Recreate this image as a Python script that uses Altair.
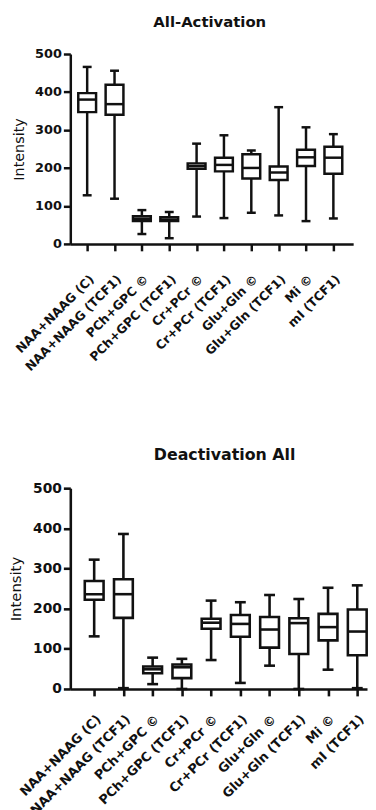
import altair as alt
import pandas as pd

cats = ["NAA+NAAG (C)", "NAA+NAAG (TCF1)", "PCh+GPC ©", "PCh+GPC (TCF1)",
        "Cr+PCr ©", "Cr+PCr (TCF1)", "Glu+Gln ©", "Glu+Gln (TCF1)",
        "Mi ©", "mI (TCF1)"]

# All-Activation
act_min = [128, 119, 26, 15, 72, 68, 82, 75, 60, 67]
act_q1 = [347, 340, 60, 60, 198, 191, 172, 168, 205, 185]
act_med = [380, 368, 66, 64, 205, 208, 200, 188, 228, 227]
act_q3 = [397, 419, 73, 70, 212, 227, 236, 204, 248, 256]
act_max = [466, 456, 89, 84, 264, 286, 246, 360, 307, 289]

# Deactivation All
dea_min = [131, 2, 12, 0, 72, 15, 58, 0, 48, 2]
dea_q1 = [222, 177, 39, 27, 150, 130, 103, 87, 121, 84]
dea_med = [236, 236, 49, 54, 165, 162, 148, 164, 154, 143]
dea_q3 = [269, 273, 56, 61, 175, 184, 179, 176, 187, 198]
dea_max = [322, 386, 78, 75, 220, 216, 234, 224, 252, 258]

y_ticks = [0, 100, 200, 300, 400, 500]
FONT = "DejaVu Sans"


def frame(mn, q1, md, q3, mx):
    return pd.DataFrame({"cat": cats, "mn": mn, "q1": q1, "md": md, "q3": q3, "mx": mx})


def panel(df, title, w, h, pad, align, box, cap, xlab_fs, ylab_fs, ttl_fs, ytl_fs,
          tpad, sw, xlp, toff, tdx):
    xs = alt.Scale(type="point", padding=pad, align=align)
    x = alt.X("cat:N", sort=cats, scale=xs, title=None,
              axis=alt.Axis(labelAngle=-45, labelFont=FONT, labelFontSize=xlab_fs,
                            labelFontWeight="bold", labelColor="#111", labelOverlap=False,
                            domainColor="#111", domainWidth=sw, tickColor="#111",
                            tickWidth=sw, tickSize=7, labelPadding=xlp, grid=False))
    ys = alt.Scale(domain=[0, 500], nice=False)
    yax = alt.Axis(values=y_ticks, labelFont=FONT, labelFontSize=ylab_fs,
                   labelFontWeight="bold", labelColor="#111", labelOverlap=False,
                   domainColor="#111", domainWidth=sw, tickColor="#111", tickWidth=sw,
                   tickSize=7, labelPadding=2, grid=False, title="Intensity",
                   titleFont=FONT, titleFontSize=ytl_fs, titleFontWeight="normal",
                   titleColor="#111", titlePadding=tpad)

    def Y(field):
        return alt.Y(field, type="quantitative", scale=ys, axis=yax)

    base = alt.Chart(df).encode(x=x)
    whisk = base.mark_rule(color="#111", strokeWidth=sw).encode(y=Y("mn"), y2="mx:Q")
    boxm = base.mark_bar(size=box, fill="white", stroke="#111", strokeWidth=sw,
                         opacity=1).encode(y=Y("q1"), y2="q3:Q")
    med = base.mark_tick(size=box, thickness=sw, color="#111", opacity=1).encode(y=Y("md"))
    cap_lo = base.mark_tick(size=cap, thickness=sw, color="#111", opacity=1).encode(y=Y("mn"))
    cap_hi = base.mark_tick(size=cap, thickness=sw, color="#111", opacity=1).encode(y=Y("mx"))
    return alt.layer(whisk, boxm, med, cap_lo, cap_hi).properties(
        width=w, height=h,
        title=alt.TitleParams(title, font=FONT, fontSize=ttl_fs, fontWeight="bold",
                              color="#111", anchor="middle", offset=toff, dx=tdx))


top = panel(frame(act_min, act_q1, act_med, act_q3, act_max), "All-Activation",
            286, 192, 0.67, 0.46, 18, 9, 12.5, 13, 15, 14.5, 8, 2.5, 22, 18.5, -2)
bottom = panel(frame(dea_min, dea_q1, dea_med, dea_q3, dea_max), "Deactivation All",
               300, 203, 0.575, 0.71, 19, 11, 13, 14, 16, 15, 9, 2.6, 17, 18, 6)

chart = alt.concat(top, bottom, columns=1, spacing=247, align="none",
                   bounds="flush").configure_view(stroke=None).properties(
    background="white", padding={"left": 0, "top": 2, "right": 0, "bottom": 0})

chart.save("out.html", embed_options={"renderer": "svg", "actions": False})
